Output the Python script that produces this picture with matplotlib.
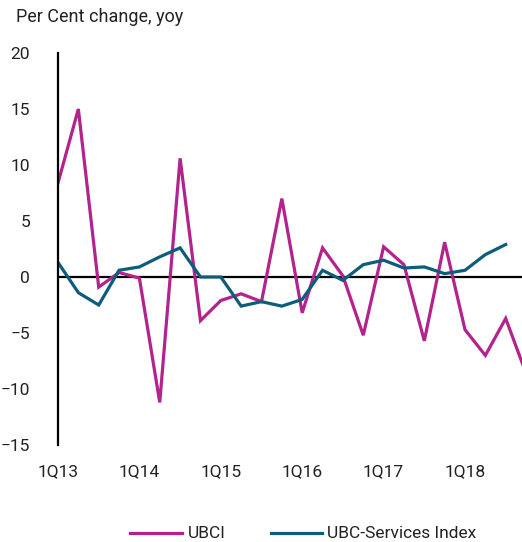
import matplotlib
matplotlib.use("Agg")
import matplotlib.pyplot as plt
from matplotlib.lines import Line2D
import numpy as np

plt.rcParams["font.family"] = ["Roboto", "DejaVu Sans"]

quarters = [f"{q}Q{y}" for y in range(13, 19) for q in range(1, 5)]
tick_labels = ["1Q13", "1Q14", "1Q15", "1Q16", "1Q17", "1Q18"]

ubci = [8.4, 15.0, -0.9, 0.4, -0.1, -11.2, 10.6, -3.9, -2.1, -1.5,
        -2.2, 7.0, -3.2, 2.6, 0.1, -5.2, 2.7, 1.1, -5.7, 3.1,
        -4.7, -7.0, -3.7, -8.6]
services = [1.3, -1.4, -2.5, 0.6, 0.9, 1.8, 2.6, 0.0, 0.0, -2.6,
            -2.2, -2.6, -2.0, 0.6, -0.3, 1.1, 1.5, 0.8, 0.9, 0.3,
            0.6, 2.0, 2.9]
series_names = ["UBCI", "UBC-Services Index"]

magenta = "#B3238E"
teal = "#0C5D7B"
text_color = "#222222"

W, H = 522, 542
fig = plt.figure(figsize=(W / 100, H / 100), dpi=100)
ax = fig.add_axes([58 / W, (H - 445) / H, (W - 58) / W, 392 / H])

ax.plot(np.arange(len(ubci)), ubci, color=magenta, lw=2.3, solid_joinstyle="miter")
ax.plot(np.arange(len(services)), services, color=teal, lw=2.3, solid_joinstyle="miter")

ax.axhline(0, color="black", lw=1.6, zorder=0)
ax.set_xlim(0, 464 / 20.35)
ax.set_ylim(-15, 20)
ax.set_yticks([-15, -10, -5, 0, 5, 10, 15, 20])
ax.set_xticks([quarters.index(t) for t in tick_labels])
ax.set_xticklabels(tick_labels)
for s in ["top", "right", "bottom"]:
    ax.spines[s].set_visible(False)
ax.spines["left"].set_linewidth(1.6)
ax.spines["left"].set_color("black")
ax.tick_params(axis="both", length=0, labelsize=12.5, colors=text_color)
ax.tick_params(axis="y", pad=20)
ax.tick_params(axis="x", pad=14)
ax.patch.set_visible(False)

fig.text(16 / W, 1 - 17 / H, "Per Cent change, yoy", fontsize=13,
         color=text_color, ha="left", va="center")

# legend drawn in figure pixels along the bottom
leg_y = 1 - 533 / H
for (x0, x1, tx), name, col in zip([(130, 182, 188), (271, 322, 327)],
                                   series_names, [magenta, teal]):
    fig.add_artist(Line2D([x0 / W, x1 / W], [leg_y, leg_y], color=col, lw=2.3,
                          transform=fig.transFigure))
    fig.text(tx / W, leg_y, name, fontsize=12.5, color=text_color,
             ha="left", va="center")

fig.savefig("out.png", dpi=100)
